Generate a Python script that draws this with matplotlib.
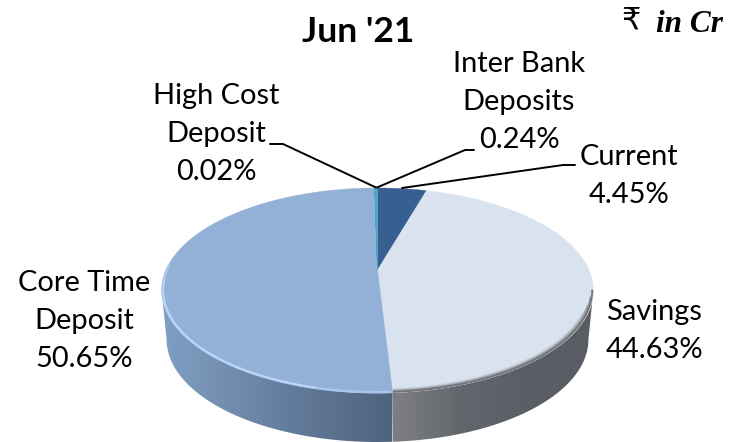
import numpy as np
import matplotlib
matplotlib.use("Agg")
import matplotlib.pyplot as plt
from matplotlib.patches import Polygon
from matplotlib.colors import LinearSegmentedColormap

# ---- data ----
labels = ["Current", "Savings", "Core Time\nDeposit", "High Cost\nDeposit", "Inter Bank\nDeposits"]
values = [4.45, 44.63, 50.65, 0.02, 0.24]
colors = ["#375F92", "#D9E3EF", "#93B0D6", "#2F8FB0", "#4BACC6"]
title = "Jun '21"

W, H = 739, 442
plt.rcParams['font.family'] = ['Lato', 'DejaVu Sans']
fig = plt.figure(figsize=(W / 100, H / 100), dpi=100)
ax = fig.add_axes([0, 0, 1, 1])
ax.set_xlim(0, W)
ax.set_ylim(H, 0)
ax.axis("off")

# perspective projection of the pie disc
CX, CY, K, A, B = 377.5, 270.0, 0.2, 98.4, 211.5
DEPTH = 49.0
SHRINK = 0.977


def proj(theta, r=1.0, bottom=False):
    X = r * np.sin(theta)
    Y = r * np.cos(theta)
    w = 1 + K * Y
    x = B * X / w
    y = CY - A * Y / w
    if bottom:
        x = x * SHRINK
        y = y + DEPTH
    return CX + x, y


edges = np.radians(np.concatenate([[0], np.cumsum(values)]) / sum(values) * 360)

# side walls (front part of the rim only)
th_left = 1.5 * np.pi - np.arcsin(K)
th_right = 0.5 * np.pi + np.arcsin(K)
side_cmaps = {
    1: LinearSegmentedColormap.from_list("s", ["#7D7F85", "#63666C", "#5B5F65", "#595D63"]),
    2: LinearSegmentedColormap.from_list("c", ["#809FC4", "#6F8AAB", "#5E7593", "#4E6380"]),
}
grad = np.linspace(0, 1, 256)[None, :]


def side(t0, t1, cmap, x0, x1):
    t = np.linspace(t0, t1, 200)
    xa, ya = proj(t)
    xb, yb = proj(t[::-1], bottom=True)
    poly = Polygon(np.c_[np.r_[xa, xb], np.r_[ya, yb]], closed=True, fc="none", ec="none")
    ax.add_patch(poly)
    im = ax.imshow(grad, cmap=cmap, extent=[x0, x1, H, 0], aspect="auto", zorder=1)
    im.set_clip_path(poly)


xs = proj(edges[2])[0]
side(th_right, edges[2], side_cmaps[1], xs, CX + 215)
side(edges[2], th_left, side_cmaps[2], CX - 215, xs)
ax.set_xlim(0, W)
ax.set_ylim(H, 0)

# top face wedges
for i, c in enumerate(colors):
    t = np.linspace(edges[i], edges[i + 1], max(3, int(np.degrees(edges[i + 1] - edges[i])) * 2))
    xa, ya = proj(t)
    pts = np.c_[np.r_[CX, xa], np.r_[CY, ya]]
    ax.add_patch(Polygon(pts, closed=True, fc=c, ec=c, lw=0.3, zorder=2))

# bevel on the front rim: core wedge
t = np.linspace(edges[2] + 0.01, th_left + 0.25, 200)
xa, ya = proj(t, r=0.995)
ax.plot(xa, ya, color="#A8C5EC", lw=1.8, zorder=3)
t = np.linspace(edges[2] + 0.3, th_left + 0.1, 200)
xa, ya = proj(t, r=0.993)
ax.plot(xa, ya, color="#BCD6F8", lw=1.3, zorder=3)

# bevel on the front rim: savings wedge (soft fall-off into grey)
for r, c, lead_in in zip([0.975, 0.98, 0.985, 0.99, 0.995],
                         ["#D2DBE6", "#C2CAD4", "#A9AEB6", "#8D9197", "#71757B"],
                         [0.35, 0.28, 0.2, 0.12, 0.05]):
    t = np.linspace(th_right + lead_in - 0.05, edges[2] - 0.005, 200)
    xa, ya = proj(t, r=r)
    ax.plot(xa, ya, color=c, lw=1.3, zorder=3)

# labels
FS = 20.9
txt = dict(fontsize=FS, color="black", ha="center", va="center", linespacing=1.56, zorder=5)
ax.text(629, 176, f"{labels[0]}\n{values[0]:.2f}%", **txt)
ax.text(654, 331, f"{labels[1]}\n{values[1]:.2f}%", **txt)
ax.text(84, 321, f"{labels[2]}\n{values[2]:.2f}%", **txt)
ax.text(216, 134, f"{labels[3]}\n{values[3]:.2f}%", **txt)
ax.text(519, 102, f"{labels[4]}\n{values[4]:.2f}%", **txt)

ax.text(358, 32, title, fontsize=25.5, fontweight="bold", ha="center", va="center", color="black")
ax.text(631, 22, "₹", fontsize=22, ha="center", va="center", family=["Liberation Serif", "DejaVu Sans"], color="black")
ax.text(689, 24, "in Cr", fontsize=22.5, fontweight="bold", fontstyle="italic", ha="center", va="center",
        family=["Liberation Serif"], color="black")

# leader lines
lead = dict(color="black", lw=1.4, zorder=6, solid_capstyle="round", solid_joinstyle="round")
ax.plot([270, 283, 376], [144, 144, 187.5], **lead)
ax.plot([474, 465, 377], [150, 150, 187.5], **lead)
ax.plot([402, 563, 575], [188, 165, 165], **lead)

fig.savefig("out.png", dpi=100)
